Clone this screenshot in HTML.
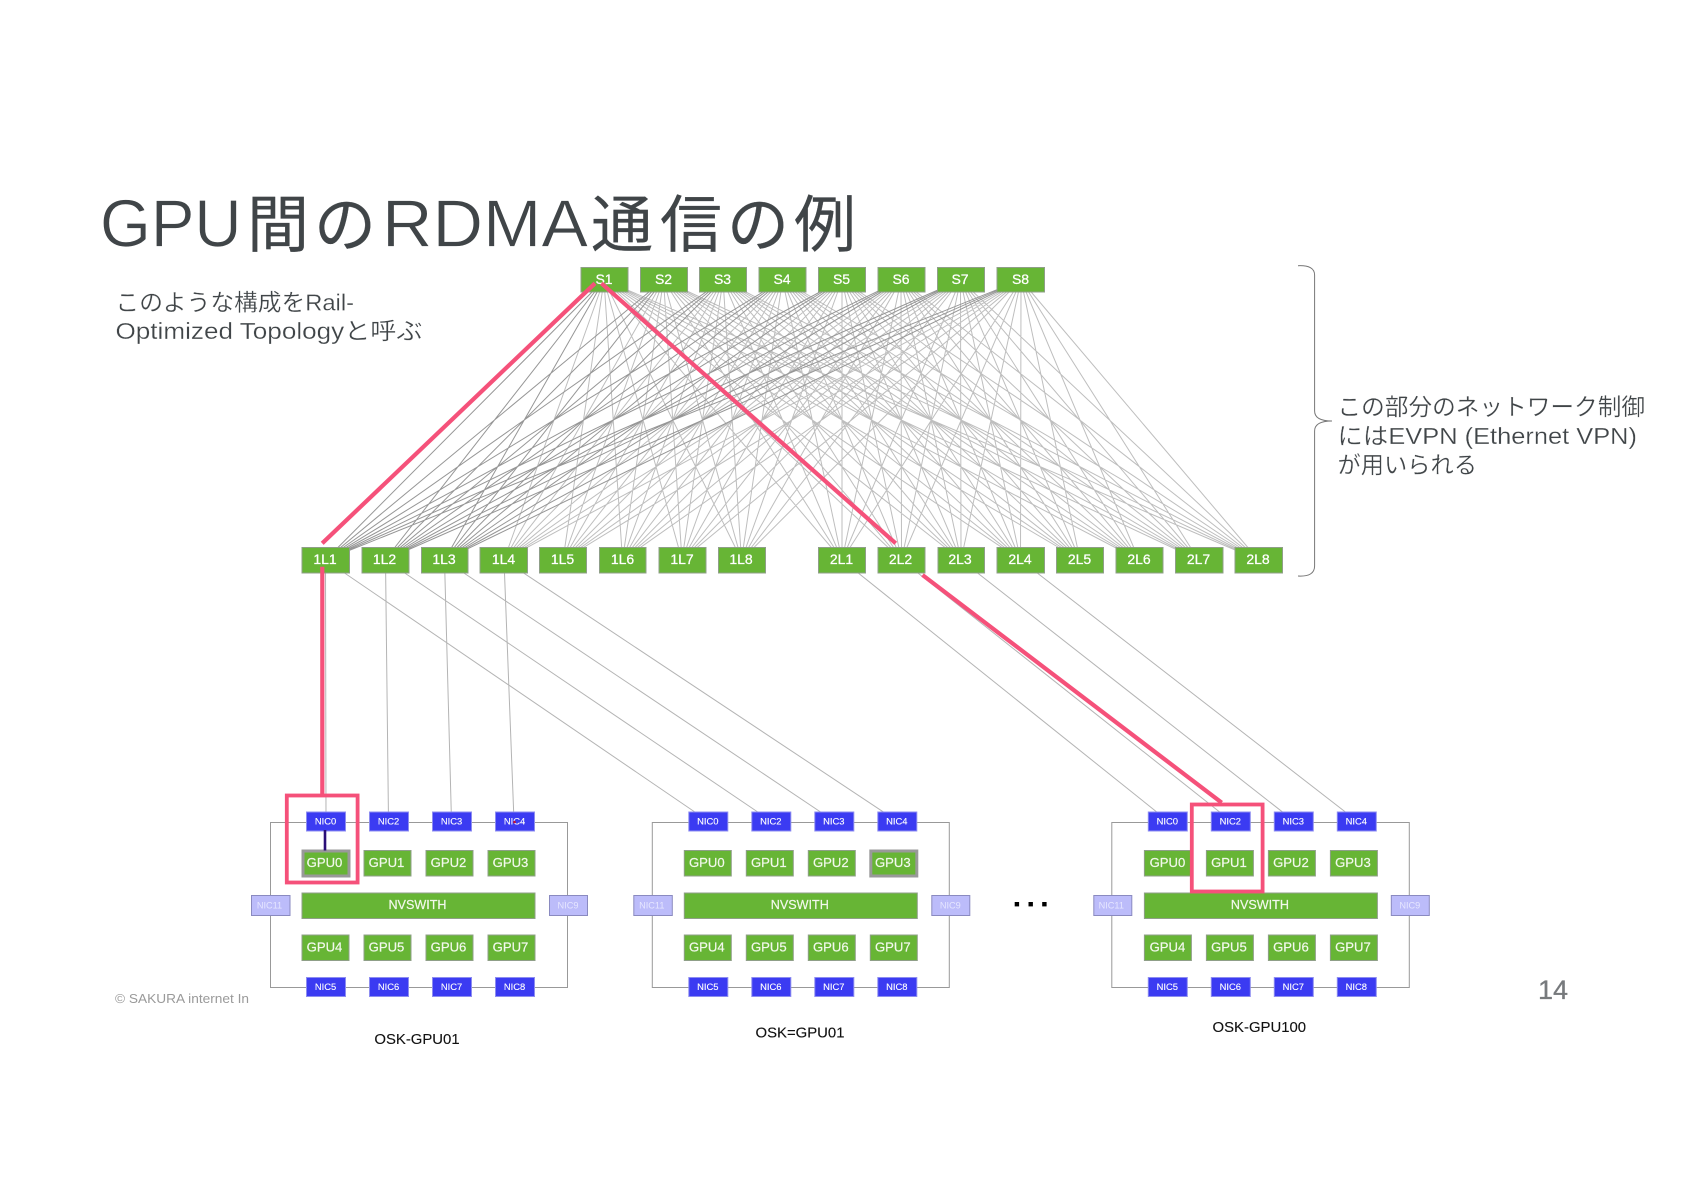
<!DOCTYPE html>
<html><head><meta charset="utf-8"><style>
html,body{margin:0;padding:0;background:#fff;width:1684px;height:1191px;overflow:hidden}
svg{display:block}
text{font-family:"Liberation Sans","Noto Sans CJK JP",sans-serif}
.t{fill:#404548;stroke:#fff;stroke-width:.7}
.k{fill:#404548;stroke:#404548;stroke-width:.25}
.n{fill:#404548;stroke:#fff;stroke-width:.25;font-size:23.5px}
.g{fill:#67b535;stroke:#8f9f88;stroke-width:1}
.b{fill:#3b3bf2;stroke:#8d8df0;stroke-width:1}
.l{fill:#bcbcfa;stroke:#8a8ac0;stroke-width:1}
.gt{fill:#fff;stroke:#fff;stroke-width:.25;font-size:14px;text-anchor:middle}
.gp{fill:#f2f8ec;stroke:#f2f8ec;stroke-width:.2;font-size:13.1px;text-anchor:middle}
.bt{fill:#fff;stroke:#fff;stroke-width:.12;font-size:9.4px;text-anchor:middle}
.lt{fill:#e6e6ff;font-size:9.2px;text-anchor:middle}
.cap{fill:#111;stroke:#111;stroke-width:.12;font-size:14.9px;text-anchor:middle}
.hl{fill:#67b535;stroke:#999;stroke-width:3}
</style></head><body>
<svg width="1684" height="1191" viewBox="0 0 1684 1191" xmlns="http://www.w3.org/2000/svg">
<rect width="1684" height="1191" fill="#fff"/>

<!-- title -->
<g>
<text class="t" x="100" y="246.7" font-size="67" textLength="141.6" lengthAdjust="spacingAndGlyphs">GPU</text>
<text class="k" x="247" y="246.7" font-size="62">間</text>
<text class="k" x="314" y="246.7" font-size="62">の</text>
<text class="t" x="382" y="246.7" font-size="67" textLength="206" lengthAdjust="spacingAndGlyphs">RDMA</text>
<text class="k" x="591" y="246.7" font-size="62">通</text>
<text class="k" x="660" y="246.7" font-size="62">信</text>
<text class="k" x="727" y="246.7" font-size="62">の</text>
<text class="k" x="794" y="246.7" font-size="62">例</text>
</g>

<!-- notes -->
<text class="n" x="115.5" y="310.5" textLength="238.5" lengthAdjust="spacingAndGlyphs">このような構成をRail-</text>
<text class="n" x="115.5" y="339" textLength="307" lengthAdjust="spacingAndGlyphs">Optimized Topologyと呼ぶ</text>
<text class="n" x="1337.5" y="415" textLength="307.5" lengthAdjust="spacingAndGlyphs">この部分のネットワーク制御</text>
<text class="n" x="1337.5" y="444" textLength="299.5" lengthAdjust="spacingAndGlyphs">にはEVPN (Ethernet VPN)</text>
<text class="n" x="1337.5" y="473" textLength="139.5" lengthAdjust="spacingAndGlyphs">が用いられる</text>

<!-- bracket -->
<path d="M1298 265.7Q1314.6 265 1314.6 275V411Q1314.6 421 1332 421Q1314.6 421 1314.6 431V566Q1314.6 577 1298 576" fill="none" stroke="#777" stroke-width="1"/>

<!-- spine-leaf mesh: light -->
<path fill="none" stroke="#bebebe" stroke-width="1" d="
M604 280L504 560M604 280L563 560M604 280L622.5 560M604 280L682 560M604 280L741.5 560M604 280L842 560M604 280L901.5 560M604 280L961 560M604 280L1020.5 560M604 280L1080 560M604 280L1139 560M604 280L1198.5 560M604 280L1258.5 560
M663.5 280L504 560M663.5 280L563 560M663.5 280L622.5 560M663.5 280L682 560M663.5 280L741.5 560M663.5 280L842 560M663.5 280L901.5 560M663.5 280L961 560M663.5 280L1020.5 560M663.5 280L1080 560M663.5 280L1139 560M663.5 280L1198.5 560M663.5 280L1258.5 560
M723 280L504 560M723 280L563 560M723 280L622.5 560M723 280L682 560M723 280L741.5 560M723 280L842 560M723 280L901.5 560M723 280L961 560M723 280L1020.5 560M723 280L1080 560M723 280L1139 560M723 280L1198.5 560M723 280L1258.5 560
M782.5 280L504 560M782.5 280L563 560M782.5 280L622.5 560M782.5 280L682 560M782.5 280L741.5 560M782.5 280L842 560M782.5 280L901.5 560M782.5 280L961 560M782.5 280L1020.5 560M782.5 280L1080 560M782.5 280L1139 560M782.5 280L1198.5 560M782.5 280L1258.5 560
M842 280L504 560M842 280L563 560M842 280L622.5 560M842 280L682 560M842 280L741.5 560M842 280L842 560M842 280L901.5 560M842 280L961 560M842 280L1020.5 560M842 280L1080 560M842 280L1139 560M842 280L1198.5 560M842 280L1258.5 560
M901 280L504 560M901 280L563 560M901 280L622.5 560M901 280L682 560M901 280L741.5 560M901 280L842 560M901 280L901.5 560M901 280L961 560M901 280L1020.5 560M901 280L1080 560M901 280L1139 560M901 280L1198.5 560M901 280L1258.5 560
M960.5 280L504 560M960.5 280L563 560M960.5 280L622.5 560M960.5 280L682 560M960.5 280L741.5 560M960.5 280L842 560M960.5 280L901.5 560M960.5 280L961 560M960.5 280L1020.5 560M960.5 280L1080 560M960.5 280L1139 560M960.5 280L1198.5 560M960.5 280L1258.5 560
M1021 280L504 560M1021 280L563 560M1021 280L622.5 560M1021 280L682 560M1021 280L741.5 560M1021 280L842 560M1021 280L901.5 560M1021 280L961 560M1021 280L1020.5 560M1021 280L1080 560M1021 280L1139 560M1021 280L1198.5 560M1021 280L1258.5 560"/>
<!-- spine-leaf mesh: dark -->
<path fill="none" stroke="#969696" stroke-width="1" d="
M604 280L325.5 560M604 280L385 560M604 280L444.5 560
M663.5 280L325.5 560M663.5 280L385 560M663.5 280L444.5 560
M723 280L325.5 560M723 280L385 560M723 280L444.5 560
M782.5 280L325.5 560M782.5 280L385 560M782.5 280L444.5 560
M842 280L325.5 560M842 280L385 560M842 280L444.5 560
M901 280L325.5 560M901 280L385 560M901 280L444.5 560
M960.5 280L325.5 560M960.5 280L385 560M960.5 280L444.5 560
M1021 280L325.5 560M1021 280L385 560M1021 280L444.5 560"/>

<!-- leaf to NIC -->
<path fill="none" stroke="#b4b4b4" stroke-width="1" d="
M325.5 560L326 821M385.5 560L388.5 821M444.5 560L451.5 821M504 560L514 821
M325.5 560L708 821M385.5 560L771 821M444.5 560L834 821M504 560L897 821
M842 560L1168 821M901.5 560L1231 821M961 560L1294 821M1020.5 560L1357 821"/>

<!-- spine -->
<g>
<rect class="g" x="581" y="267.5" width="47" height="24.5"/><text class="gt" x="604" y="283.8">S1</text>
<rect class="g" x="640.5" y="267.5" width="47" height="24.5"/><text class="gt" x="663.5" y="283.8">S2</text>
<rect class="g" x="699.5" y="267.5" width="47" height="24.5"/><text class="gt" x="722.5" y="283.8">S3</text>
<rect class="g" x="759" y="267.5" width="47" height="24.5"/><text class="gt" x="782" y="283.8">S4</text>
<rect class="g" x="818.5" y="267.5" width="47" height="24.5"/><text class="gt" x="841.5" y="283.8">S5</text>
<rect class="g" x="878" y="267.5" width="47" height="24.5"/><text class="gt" x="901" y="283.8">S6</text>
<rect class="g" x="937.5" y="267.5" width="47" height="24.5"/><text class="gt" x="960" y="283.8">S7</text>
<rect class="g" x="997" y="267.5" width="47.5" height="24.5"/><text class="gt" x="1020.5" y="283.8">S8</text>
</g>

<!-- leaf -->
<g>
<rect class="g" x="302" y="547.5" width="47.5" height="25.5"/><text class="gt" x="325" y="564.2">1L1</text>
<rect class="g" x="362" y="547.5" width="47" height="25.5"/><text class="gt" x="384.5" y="564.2">1L2</text>
<rect class="g" x="421.5" y="547.5" width="46.5" height="25.5"/><text class="gt" x="444" y="564.2">1L3</text>
<rect class="g" x="480" y="547.5" width="47.5" height="25.5"/><text class="gt" x="503.5" y="564.2">1L4</text>
<rect class="g" x="539.5" y="547.5" width="47" height="25.5"/><text class="gt" x="562.5" y="564.2">1L5</text>
<rect class="g" x="599.5" y="547.5" width="46.5" height="25.5"/><text class="gt" x="622.5" y="564.2">1L6</text>
<rect class="g" x="659" y="547.5" width="47" height="25.5"/><text class="gt" x="682" y="564.2">1L7</text>
<rect class="g" x="718.5" y="547.5" width="47" height="25.5"/><text class="gt" x="741" y="564.2">1L8</text>
<rect class="g" x="818.5" y="547.5" width="47" height="25.5"/><text class="gt" x="841.5" y="564.2">2L1</text>
<rect class="g" x="878" y="547.5" width="47" height="25.5"/><text class="gt" x="900.5" y="564.2">2L2</text>
<rect class="g" x="938" y="547.5" width="46.5" height="25.5"/><text class="gt" x="960" y="564.2">2L3</text>
<rect class="g" x="997" y="547.5" width="47.5" height="25.5"/><text class="gt" x="1020" y="564.2">2L4</text>
<rect class="g" x="1056.5" y="547.5" width="47" height="25.5"/><text class="gt" x="1079.5" y="564.2">2L5</text>
<rect class="g" x="1116" y="547.5" width="47" height="25.5"/><text class="gt" x="1139" y="564.2">2L6</text>
<rect class="g" x="1175.5" y="547.5" width="47.5" height="25.5"/><text class="gt" x="1198.5" y="564.2">2L7</text>
<rect class="g" x="1235" y="547.5" width="47.5" height="25.5"/><text class="gt" x="1258" y="564.2">2L8</text>
</g>

<!-- server 1 -->
<g>
<rect x="270.5" y="822.5" width="297" height="165" fill="none" stroke="#999" stroke-width="1"/>
<rect class="b" x="306.5" y="812" width="39" height="19"/><text class="bt" x="325.5" y="824.7">NIC0</text>
<rect class="b" x="369.5" y="812" width="39" height="19"/><text class="bt" x="388.5" y="824.7">NIC2</text>
<rect class="b" x="432.5" y="812" width="39" height="19"/><text class="bt" x="451.5" y="824.7">NIC3</text>
<rect class="b" x="495.5" y="812" width="39" height="19"/><text class="bt" x="514.5" y="824.7">NIC4</text>
<rect class="b" x="306.5" y="977.5" width="39" height="19"/><text class="bt" x="325.5" y="990">NIC5</text>
<rect class="b" x="369.5" y="977.5" width="39" height="19"/><text class="bt" x="388.5" y="990">NIC6</text>
<rect class="b" x="432.5" y="977.5" width="39" height="19"/><text class="bt" x="451.5" y="990">NIC7</text>
<rect class="b" x="495.5" y="977.5" width="39" height="19"/><text class="bt" x="514.5" y="990">NIC8</text>
<rect class="l" x="251.5" y="895.5" width="38.5" height="20"/><text class="lt" x="269.5" y="908.5">NIC11</text>
<rect class="l" x="549.5" y="895.5" width="38" height="20"/><text class="lt" x="568" y="908.5">NIC9</text>
<rect class="hl" x="303" y="851" width="46" height="25"/><text class="gp" x="324.5" y="867">GPU0</text>
<rect class="g" x="364" y="850.5" width="47" height="25.5"/><text class="gp" x="386.5" y="867">GPU1</text>
<rect class="g" x="426" y="850.5" width="47" height="25.5"/><text class="gp" x="448.5" y="867">GPU2</text>
<rect class="g" x="488" y="850.5" width="47" height="25.5"/><text class="gp" x="510.5" y="867">GPU3</text>
<rect class="g" x="302" y="893" width="233" height="25.5"/><text class="gp" x="417.5" y="909" style="font-size:12.6px">NVSWITH</text>
<rect class="g" x="302" y="935" width="47" height="25.5"/><text class="gp" x="324.5" y="951.5">GPU4</text>
<rect class="g" x="364" y="935" width="47" height="25.5"/><text class="gp" x="386.5" y="951.5">GPU5</text>
<rect class="g" x="426" y="935" width="47" height="25.5"/><text class="gp" x="448.5" y="951.5">GPU6</text>
<rect class="g" x="488" y="935" width="47" height="25.5"/><text class="gp" x="510.5" y="951.5">GPU7</text>
<text class="cap" x="417" y="1044">OSK-GPU01</text>
<rect x="323.7" y="830" width="2.6" height="20.5" fill="#2b0f78"/>
<circle cx="514.5" cy="822" r="1.3" fill="#c8102e"/>
</g>

<!-- server 2 -->
<g transform="translate(382.3,0)">
<rect x="270" y="822.5" width="297" height="165" fill="none" stroke="#999" stroke-width="1"/>
<rect class="b" x="306.5" y="812" width="39" height="19"/><text class="bt" x="325.5" y="824.7">NIC0</text>
<rect class="b" x="369.5" y="812" width="39" height="19"/><text class="bt" x="388.5" y="824.7">NIC2</text>
<rect class="b" x="432.5" y="812" width="39" height="19"/><text class="bt" x="451.5" y="824.7">NIC3</text>
<rect class="b" x="495.5" y="812" width="39" height="19"/><text class="bt" x="514.5" y="824.7">NIC4</text>
<rect class="b" x="306.5" y="977.5" width="39" height="19"/><text class="bt" x="325.5" y="990">NIC5</text>
<rect class="b" x="369.5" y="977.5" width="39" height="19"/><text class="bt" x="388.5" y="990">NIC6</text>
<rect class="b" x="432.5" y="977.5" width="39" height="19"/><text class="bt" x="451.5" y="990">NIC7</text>
<rect class="b" x="495.5" y="977.5" width="39" height="19"/><text class="bt" x="514.5" y="990">NIC8</text>
<rect class="l" x="251.5" y="895.5" width="38.5" height="20"/><text class="lt" x="269.5" y="908.5">NIC11</text>
<rect class="l" x="549.5" y="895.5" width="38" height="20"/><text class="lt" x="568" y="908.5">NIC9</text>
<rect class="g" x="302" y="850.5" width="47" height="25.5"/><text class="gp" x="324.5" y="867">GPU0</text>
<rect class="g" x="364" y="850.5" width="47" height="25.5"/><text class="gp" x="386.5" y="867">GPU1</text>
<rect class="g" x="426" y="850.5" width="47" height="25.5"/><text class="gp" x="448.5" y="867">GPU2</text>
<rect class="hl" x="488.5" y="851" width="46" height="25"/><text class="gp" x="510.5" y="867">GPU3</text>
<rect class="g" x="302" y="893" width="233" height="25.5"/><text class="gp" x="417.5" y="909" style="font-size:12.6px">NVSWITH</text>
<rect class="g" x="302" y="935" width="47" height="25.5"/><text class="gp" x="324.5" y="951.5">GPU4</text>
<rect class="g" x="364" y="935" width="47" height="25.5"/><text class="gp" x="386.5" y="951.5">GPU5</text>
<rect class="g" x="426" y="935" width="47" height="25.5"/><text class="gp" x="448.5" y="951.5">GPU6</text>
<rect class="g" x="488" y="935" width="47" height="25.5"/><text class="gp" x="510.5" y="951.5">GPU7</text>
<text class="cap" x="417.7" y="1037.7">OSK=GPU01</text>
</g>

<!-- server 3 -->
<g transform="translate(841.8,0)">
<rect x="270" y="822.5" width="297.5" height="165" fill="none" stroke="#999" stroke-width="1"/>
<rect class="b" x="306.5" y="812" width="39" height="19"/><text class="bt" x="325.5" y="824.7">NIC0</text>
<rect class="b" x="369.5" y="812" width="39" height="19"/><text class="bt" x="388.5" y="824.7">NIC2</text>
<rect class="b" x="432.5" y="812" width="39" height="19"/><text class="bt" x="451.5" y="824.7">NIC3</text>
<rect class="b" x="495.5" y="812" width="39" height="19"/><text class="bt" x="514.5" y="824.7">NIC4</text>
<rect class="b" x="306.5" y="977.5" width="39" height="19"/><text class="bt" x="325.5" y="990">NIC5</text>
<rect class="b" x="369.5" y="977.5" width="39" height="19"/><text class="bt" x="388.5" y="990">NIC6</text>
<rect class="b" x="432.5" y="977.5" width="39" height="19"/><text class="bt" x="451.5" y="990">NIC7</text>
<rect class="b" x="495.5" y="977.5" width="39" height="19"/><text class="bt" x="514.5" y="990">NIC8</text>
<rect class="l" x="252" y="895.5" width="38" height="20"/><text class="lt" x="269.5" y="908.5">NIC11</text>
<rect class="l" x="549.5" y="895.5" width="38" height="20"/><text class="lt" x="568" y="908.5">NIC9</text>
<g transform="translate(.6,0)">
<rect class="g" x="302" y="850.5" width="47" height="25.5"/><text class="gp" x="325" y="867">GPU0</text>
<rect class="g" x="364" y="850.5" width="47" height="25.5"/><text class="gp" x="386.5" y="867">GPU1</text>
<rect class="g" x="426" y="850.5" width="47" height="25.5"/><text class="gp" x="448.5" y="867">GPU2</text>
<rect class="g" x="488" y="850.5" width="47" height="25.5"/><text class="gp" x="510.5" y="867">GPU3</text>
<rect class="g" x="302" y="893" width="233" height="25.5"/><text class="gp" x="417.5" y="909" style="font-size:12.6px">NVSWITH</text>
<rect class="g" x="302" y="935" width="47" height="25.5"/><text class="gp" x="325" y="951.5">GPU4</text>
<rect class="g" x="364" y="935" width="47" height="25.5"/><text class="gp" x="386.5" y="951.5">GPU5</text>
<rect class="g" x="426" y="935" width="47" height="25.5"/><text class="gp" x="448.5" y="951.5">GPU6</text>
<rect class="g" x="488" y="935" width="47" height="25.5"/><text class="gp" x="510.5" y="951.5">GPU7</text>
</g>
<text class="cap" x="417.5" y="1032">OSK-GPU100</text>
</g>

<!-- dots -->
<rect x="1014.7" y="902" width="4.4" height="4.4" fill="#000"/>
<rect x="1028.5" y="902" width="4.4" height="4.4" fill="#000"/>
<rect x="1042.2" y="902" width="4.4" height="4.4" fill="#000"/>

<!-- footer -->
<text x="115" y="1003" font-size="13" fill="#9a9a9a" textLength="134" lengthAdjust="spacingAndGlyphs">© SAKURA internet In</text>
<text x="1538" y="999" font-size="27" fill="#777a7d" stroke="#777a7d" stroke-width=".3">14</text>

<!-- red paths -->
<g fill="none" stroke="#f5517a">
<rect x="286.8" y="795.5" width="70.8" height="87" stroke-width="3.8"/>
<rect x="1191.8" y="804.5" width="70.8" height="87" stroke-width="3.8"/>
<path stroke-width="4.2" d="M595 283.3L322.2 543.3M601.4 283.3L895.7 543.3M322.3 566.7V795M922.5 575L1221.7 802.7"/>
</g>
</svg>
</body></html>
